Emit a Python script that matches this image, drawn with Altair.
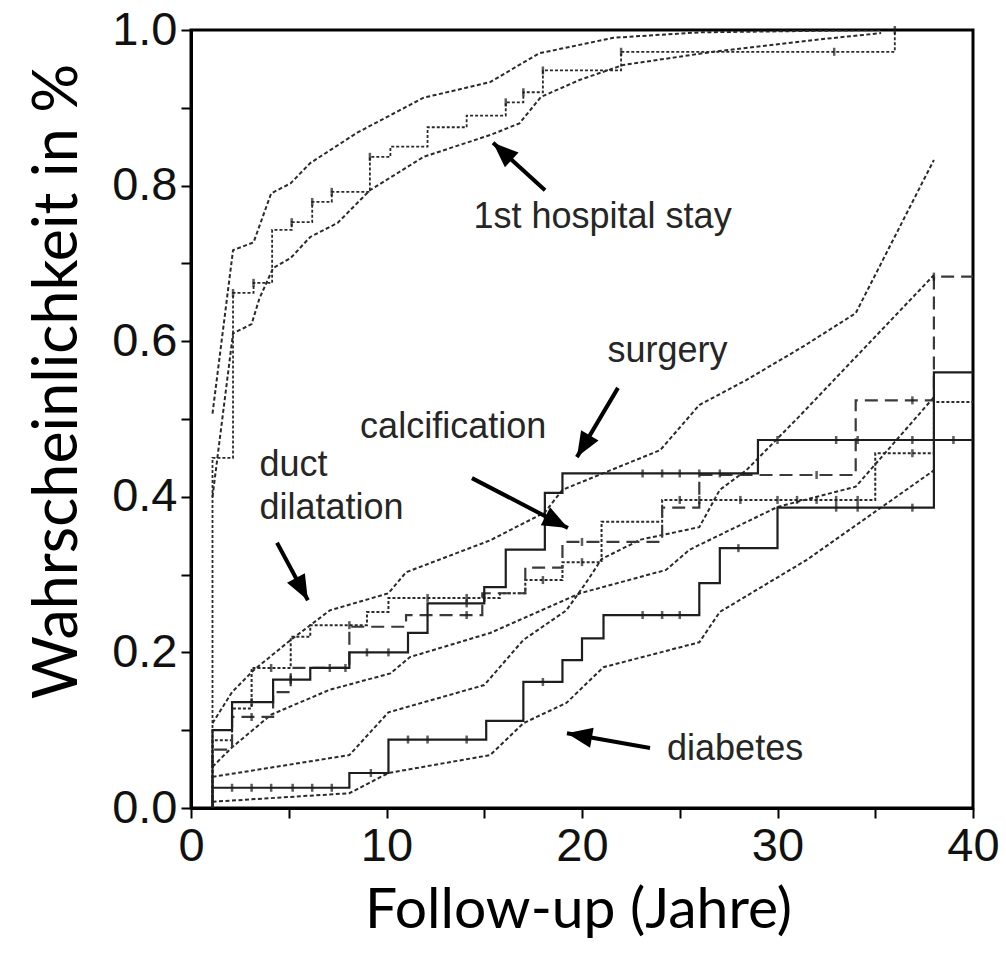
import math
import altair as alt
import pandas as pd

# ---------------------------------------------------------------------------
# Cumulative incidence step curves (time in years, probability after step)
# ---------------------------------------------------------------------------
hosp_x = [1.1, 1.1, 2.15, 3.2, 4.15, 5.15, 6.2, 7.2, 9.15, 10.2, 12.1, 14.1, 16.1, 17.0, 18.0, 22.0, 36.0]
hosp_y = [0.0, 0.45, 0.662, 0.675, 0.743, 0.753, 0.779, 0.792, 0.837, 0.85, 0.875, 0.89, 0.907, 0.92, 0.948, 0.972, 1.0]

solid_x = [1.1, 1.1, 2.1, 4.2, 6.1, 8.1, 11.1, 12.1, 15.0, 16.1, 18.1, 19.0, 29.0, 40.0]
solid_y = [0.0, 0.10, 0.136, 0.165, 0.18, 0.20, 0.225, 0.263, 0.284, 0.332, 0.405, 0.43, 0.473, 0.473]

dash_x = [1.1, 1.1, 2.1, 4.2, 5.1, 8.1, 11.0, 14.9, 17.1, 19.0, 24.1, 26.0, 34.0, 38.0, 40.0]
dash_y = [0.0, 0.075, 0.117, 0.149, 0.18, 0.233, 0.248, 0.276, 0.309, 0.342, 0.386, 0.428, 0.524, 0.683, 0.683]

dot_x = [1.1, 1.1, 2.1, 3.1, 5.1, 6.1, 9.0, 10.1, 15.8, 17.1, 19.0, 21.0, 24.1, 35.0, 38.0, 40.0]
dot_y = [0.0, 0.087, 0.128, 0.18, 0.22, 0.235, 0.252, 0.27, 0.276, 0.293, 0.316, 0.368, 0.396, 0.456, 0.522, 0.522]

diab_x = [1.1, 1.1, 8.1, 10.1, 15.1, 17.0, 19.0, 20.0, 21.1, 26.0, 27.05, 30.0, 38.0, 40.0]
diab_y = [0.0, 0.026, 0.045, 0.088, 0.112, 0.162, 0.19, 0.218, 0.248, 0.289, 0.334, 0.386, 0.56, 0.56]

# Censoring times per curve
hosp_cens = [2.15, 3.2, 5.15, 6.2, 7.2, 9.15, 16.1, 17.0, 18.0, 22.0, 32.9, 36.0]
solid_cens = [3.1, 5.1, 7.1, 7.9, 9.0, 10.1, 14.1, 23.1, 24.1, 25.0, 26.0, 27.05, 30.0, 33.0, 34.1, 36.9, 39.0]
dash_cens = [3.1, 14.1, 20.0, 32.0, 36.9, 38.0]
dot_cens = [4.1, 8.1, 12.1, 14.1, 15.0, 18.0, 20.0, 25.0, 26.0, 28.1, 30.0, 31.0, 32.0, 33.0, 34.1, 36.9]
diab_cens = [2.1, 3.1, 4.1, 5.2, 6.2, 7.2, 9.2, 11.1, 12.1, 14.1, 18.0, 23.1, 24.1, 25.0, 28.0, 33.0, 34.1, 36.9]

# ---------------------------------------------------------------------------
# Pointwise confidence bands
# ---------------------------------------------------------------------------
hosp_up_x = [1.1, 2.15, 3.2, 4.1, 5.1, 6.1, 8.5, 11.9, 15.3, 17.8, 21.6, 26.0, 35.3]
hosp_up_y = [0.507, 0.717, 0.727, 0.79, 0.803, 0.829, 0.868, 0.913, 0.933, 0.97, 0.99, 0.997, 1.0]
hosp_lo_x = [1.1, 2.15, 3.1, 3.5, 4.2, 5.1, 6.1, 7.5, 9.15, 11.9, 15.3, 16.8, 17.9, 19.9, 22.1, 26.7, 31.8, 35.3]
hosp_lo_y = [0.40, 0.61, 0.622, 0.655, 0.694, 0.707, 0.734, 0.752, 0.794, 0.837, 0.865, 0.88, 0.914, 0.936, 0.955, 0.972, 0.987, 0.996]

band_up_x = [1.1, 2.1, 3.2, 5.1, 7.1, 10.1, 11.0, 15.3, 18.1, 19.0, 24.0, 26.0, 28.4, 31.3, 34.0, 38.0]
band_up_y = [0.109, 0.149, 0.177, 0.216, 0.254, 0.276, 0.303, 0.344, 0.38, 0.409, 0.46, 0.518, 0.55, 0.593, 0.636, 0.833]
band_lo_x = [1.1, 2.1, 4.1, 7.1, 10.2, 11.2, 15.3, 19.9, 24.3, 25.5, 30.0, 34.0, 38.0]
band_lo_y = [0.053, 0.078, 0.12, 0.152, 0.173, 0.194, 0.225, 0.276, 0.306, 0.332, 0.387, 0.413, 0.528]

diab_up_x = [1.1, 8.1, 10.1, 15.0, 17.0, 19.2, 20.3, 21.0, 23.0, 26.0, 27.05, 28.4, 31.1, 38.0]
diab_up_y = [0.04, 0.068, 0.123, 0.158, 0.216, 0.254, 0.293, 0.32, 0.345, 0.361, 0.409, 0.434, 0.503, 0.685]
diab_lo_x = [1.1, 8.1, 10.1, 15.3, 17.0, 19.2, 21.1, 26.0, 27.05, 31.5, 38.0]
diab_lo_y = [0.008, 0.019, 0.045, 0.068, 0.109, 0.135, 0.181, 0.213, 0.252, 0.319, 0.434]

# ---------------------------------------------------------------------------
# Annotations: label text, anchor (years, probability), arrow tail -> tip
# ---------------------------------------------------------------------------
label_text = ["1st hospital stay", "surgery", "calcification", "duct", "dilatation", "diabetes"]
label_x = [14.45, 21.3, 8.65, 3.5, 3.5, 24.35]
label_y = [0.7455, 0.573, 0.475, 0.4267, 0.3715, 0.0617]

arrow_x0 = [18.11, 21.84, 14.37, 4.40, 23.48]
arrow_y0 = [0.794, 0.540, 0.424, 0.341, 0.077]
arrow_x1 = [15.45, 19.74, 19.28, 5.98, 19.23]
arrow_y1 = [0.855, 0.451, 0.360, 0.267, 0.096]

W, H = 782, 778
X_DOMAIN = [0, 40]
Y_DOMAIN = [0, 1]

xs = alt.Scale(domain=X_DOMAIN, nice=False, zero=False)
ys = alt.Scale(domain=Y_DOMAIN, nice=False, zero=False)


def frame(xv, yv):
    return pd.DataFrame({"t": xv, "p": yv, "i": range(len(xv))})


def step_value(xv, yv, t):
    val = yv[0]
    for sx, sy in zip(xv, yv):
        if sx <= t:
            val = sy
    return val


def step_line(xv, yv, dash=None, width=2.0, color="#222"):
    kw = dict(interpolate="step-after", strokeWidth=width, color=color, clip=True)
    if dash:
        kw["strokeDash"] = dash
    return alt.Chart(frame(xv, yv)).mark_line(**kw).encode(
        x=alt.X("t:Q", scale=xs), y=alt.Y("p:Q", scale=ys), order="i:Q"
    )


def band_line(xv, yv):
    return alt.Chart(frame(xv, yv)).mark_line(
        strokeDash=[4, 2.5], strokeWidth=2, color="#2a2a2a", clip=True
    ).encode(x=alt.X("t:Q", scale=xs), y=alt.Y("p:Q", scale=ys), order="i:Q")


def censor_ticks(cx, xv, yv, color="#1a1a1a"):
    df = pd.DataFrame({"t": cx, "p": [step_value(xv, yv, c) for c in cx]})
    return alt.Chart(df).mark_tick(
        orient="vertical", size=8, thickness=2.5, color=color
    ).encode(x=alt.X("t:Q", scale=xs), y=alt.Y("p:Q", scale=ys))


layers = [
    band_line(hosp_up_x, hosp_up_y),
    band_line(hosp_lo_x, hosp_lo_y),
    band_line(band_up_x, band_up_y),
    band_line(band_lo_x, band_lo_y),
    band_line(diab_up_x, diab_up_y),
    band_line(diab_lo_x, diab_lo_y),
    step_line(hosp_x, hosp_y, dash=[3, 2], width=1.8, color="#2a2a2a"),
    step_line(dot_x, dot_y, dash=[3, 2], width=2.0, color="#2a2a2a"),
    step_line(dash_x, dash_y, dash=[13, 7], width=2.2, color="#3a3a3a"),
    step_line(solid_x, solid_y, width=2.2, color="#1e1e1e"),
    step_line(diab_x, diab_y, width=2.2, color="#1e1e1e"),
    censor_ticks(hosp_cens, hosp_x, hosp_y),
    censor_ticks(solid_cens, solid_x, solid_y),
    censor_ticks(dash_cens, dash_x, dash_y),
    censor_ticks(dot_cens, dot_x, dot_y),
    censor_ticks(diab_cens, diab_x, diab_y),
]

# Annotation labels
labels = pd.DataFrame({"text": label_text, "t": label_x, "p": label_y})
layers.append(
    alt.Chart(labels).mark_text(
        align="left", baseline="alphabetic", font="Liberation Sans",
        fontSize=36, color="#262626"
    ).encode(x=alt.X("t:Q", scale=xs), y=alt.Y("p:Q", scale=ys), text="text:N")
)

# Arrows: shaft as a rule, head as a rotated triangle whose tip sits on the target
px_per_x = W / (X_DOMAIN[1] - X_DOMAIN[0])
px_per_y = H / (Y_DOMAIN[1] - Y_DOMAIN[0])
angles = []
for a, b, c, d in zip(arrow_x0, arrow_y0, arrow_x1, arrow_y1):
    dx = (c - a) * px_per_x
    dy = -(d - b) * px_per_y
    angles.append(math.degrees(math.atan2(dx, -dy)) % 360)
arrows = pd.DataFrame({
    "x0": arrow_x0, "y0": arrow_y0, "x1": arrow_x1, "y1": arrow_y1, "ang": angles
})
layers.append(
    alt.Chart(arrows).mark_rule(strokeWidth=4, color="black").encode(
        x=alt.X("x0:Q", scale=xs), y=alt.Y("y0:Q", scale=ys), x2="x1:Q", y2="y1:Q"
    )
)
layers.append(
    alt.Chart(arrows).mark_point(
        shape="M0,0 L0.8,2 L-0.8,2 Z", size=640, filled=True, opacity=1,
        color="black", strokeWidth=0
    ).encode(
        x=alt.X("x1:Q", scale=xs), y=alt.Y("y1:Q", scale=ys), angle=alt.Angle("ang:Q", scale=None)
    )
)

x_axis = alt.Axis(
    title="Follow-up (Jahre)", values=[0, 5, 10, 15, 20, 25, 30, 35, 40],
    labelExpr="datum.value % 10 === 0 ? datum.label : ''",
    titleX=387, titleY=119, titleAlign="center", titleBaseline="alphabetic",
    labelPadding=5, labelFlush=False,
)
y_axis = alt.Axis(
    title="Wahrscheinlichkeit in %",
    values=[0, 0.1, 0.2, 0.3, 0.4, 0.5, 0.6, 0.7, 0.8, 0.9, 1.0], format=".1f",
    labelExpr="round(datum.value * 10) % 2 === 0 ? datum.label : ''",
    titleAngle=270, titleX=-115, titleY=351, titleAlign="center",
    titleBaseline="alphabetic", labelPadding=4, labelFlush=False,
    titleFontSize=61,
)

base = alt.Chart(pd.DataFrame({"t": [0], "p": [0]})).mark_point(opacity=0).encode(
    x=alt.X("t:Q", scale=xs, axis=x_axis), y=alt.Y("p:Q", scale=ys, axis=y_axis)
)

chart = alt.layer(base, *layers).properties(
    width=W, height=H,
    autosize=alt.AutoSizeParams(type="none"),
    padding={"left": 191, "top": 30, "right": 33, "bottom": 155},
    background="white",
).configure_view(
    stroke="black", strokeWidth=3
).configure_axis(
    grid=False, domainColor="black", domainWidth=3, tickColor="black",
    tickWidth=2, tickSize=10, labelFont="Liberation Sans", labelFontSize=47,
    labelColor="#111", titleFont="Lato", titleFontSize=57,
    titleFontWeight="normal", titleColor="black",
)

chart.save("out.html", embed_options={"renderer": "svg", "actions": False})
